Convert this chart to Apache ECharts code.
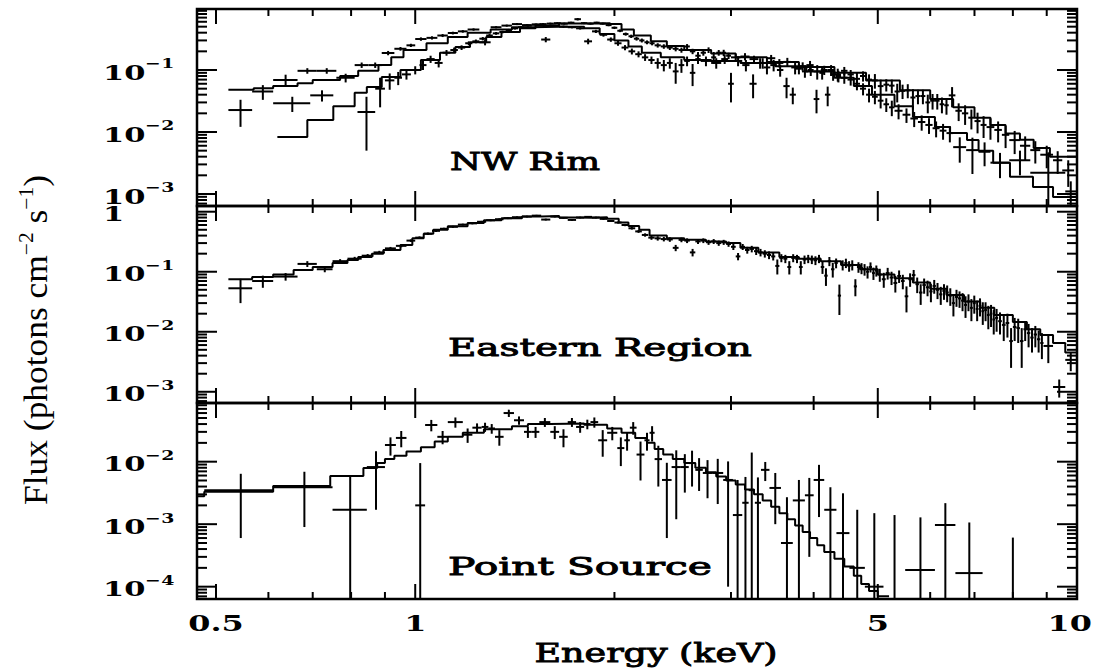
<!DOCTYPE html>
<html><head><meta charset="utf-8">
<script src="https://cdn.jsdelivr.net/npm/echarts@6/dist/echarts.min.js"></script>
<style>html,body{margin:0;padding:0;background:#fff}#c{width:1094px;height:669px}</style>
</head><body><div id="c"></div>
<script>
// ---------------- axis ticks / labels ----------------
const xMajorTicks = [0.5, 1, 5, 10];
const xMinorTicks = [0.6, 0.7, 0.8, 0.9, 2, 3, 4, 6, 7, 8, 9];
const xTickLabels = ['0.5', '1', '5', '10'];
const nwRimYTicks = [0.1, 0.01, 0.001];
const easternYTicks = [1, 0.1, 0.01, 0.001];
const pointYTicks = [0.01, 0.001, 0.0001];
const panelNames = ['NW Rim', 'Eastern Region', 'Point Source'];
const xTitle = 'Energy (keV)';

// ---------------- NW Rim: model A (soft) ----------------
const nwModelAEdges = [0.522,0.57,0.61,0.664,0.70,0.77,0.82,0.88,0.92,0.96,1.04,1.12,1.2,1.3,1.4,1.5,1.65,1.8,1.9,2.0,2.1,2.2,2.35,2.55,2.8,3.1,3.5,3.9,4.3,4.6,4.9,5.3,5.65,6.1,6.43,6.82,7.1,7.47,7.92,8.58,9.2,10];
const nwModelAFlux = [0.048,0.051,0.055,0.061,0.069,0.080,0.097,0.12,0.16,0.21,0.27,0.34,0.40,0.45,0.49,0.50,0.50,0.47,0.38,0.30,0.24,0.19,0.16,0.145,0.14,0.13,0.115,0.095,0.075,0.055,0.04,0.026,0.0175,0.012,0.0096,0.0074,0.005,0.0032,0.0019,0.0013,0.00089];
// ---------------- NW Rim: model B (hard) ----------------
const nwModelBEdges = [0.619,0.687,0.752,0.81,0.845,0.89,0.95,1.02,1.09,1.15,1.21,1.28,1.35,1.44,1.52,1.65,1.85,1.97,2.05,2.14,2.27,2.4,2.55,2.8,3.05,3.4,3.8,4.3,4.8,5.4,6.0,6.5,7.0,7.4,7.8,8.2,8.6,9.1,10];
const nwModelBFlux = [0.0083,0.0156,0.026,0.043,0.053,0.077,0.10,0.145,0.19,0.235,0.28,0.34,0.41,0.47,0.52,0.56,0.57,0.55,0.45,0.36,0.29,0.245,0.21,0.185,0.16,0.135,0.112,0.09,0.068,0.047,0.034,0.025,0.017,0.013,0.0095,0.0075,0.0055,0.004];

// ---------------- NW Rim: data A ----------------
const nwDataAEdges = [0.567,0.61,0.664,0.71,0.76,0.81,0.85,0.89,0.93,0.97,1.0,1.04,1.08,1.12,1.16,1.2,1.25,1.3,1.35,1.4,1.45,1.5,1.55,1.6,1.65,1.7,1.75,1.8,1.85,1.9,1.95,2.0,2.05,2.1,2.15,2.2,2.25,2.3,2.35,2.4,2.45,2.5,2.55,2.6,2.65,2.7,2.8,2.9,2.97,3.03,3.12,3.2,3.28,3.36,3.44,3.52,3.6,3.68,3.76,3.84,3.92,4.0,4.08,4.16,4.24,4.32,4.4,4.5,4.6,4.7,4.8,4.9,5.0,5.1,5.2,5.3,5.45,5.6,5.75,5.9,6.05,6.2,6.35,6.5,6.8,7.1,7.4,7.9,8.5,9.6,9.97];
const nwDataAFlux = [0.045,0.069,0.097,0.097,0.075,0.12,0.12,0.188,0.22,0.25,
 0.316,0.33,0.36,0.395,0.42,0.45,0.28,0.49,0.52,0.55,
 0.53,0.54,0.31,0.52,0.50,0.49,0.47,0.29,0.42,0.37,
 0.31,0.27,0.23,0.20,0.18,0.16,0.145,0.13,0.12,0.13,
 0.095,0.12,0.14,0.09,0.15,0.14,0.13,0.15,0.06,0.14,
 0.12,0.06,0.13,0.11,0.12,0.10,0.055,0.04,0.105,0.095,
 0.10,0.034,0.09,0.04,0.085,0.08,0.075,0.07,0.06,0.05,
 0.04,0.037,0.032,0.028,0.025,0.022,0.019,0.0165,0.0145,0.013,
 0.0115,0.0105,0.0096,0.0057,0.0051,0.0048,0.0032,0.0035,0.0022,0.0011];
const nwDataAErr = [0.012,0.015,0.01,0.01,0.012,0.012,0.012,0.015,0.015,0.015,
 0.02,0.02,0.02,0.02,0.02,0.02,0.03,0.02,0.02,0.02,
 0.02,0.02,0.03,0.02,0.02,0.02,0.02,0.03,0.025,0.025,
 0.025,0.024,0.022,0.022,0.02,0.02,0.02,0.025,0.025,0.025,
 0.035,0.03,0.025,0.035,0.025,0.025,0.025,0.025,0.03,0.025,
 0.025,0.025,0.025,0.025,0.025,0.022,0.02,0.012,0.02,0.02,
 0.02,0.014,0.02,0.014,0.018,0.017,0.015,0.014,0.013,0.011,
 0.01,0.009,0.008,0.007,0.007,0.006,0.005,0.0045,0.004,0.0037,
 0.0033,0.003,0.0028,0.0025,0.003,0.002,0.0014,0.0015,0.0025,0.0005];

// ---------------- NW Rim: data B ----------------
const nwDataBEdges = [0.522,0.567,0.61,0.694,0.752,0.818,0.87,0.9,0.93,0.955,0.985,1.015,1.04,1.07,1.1,1.13,1.16,1.19,1.22,1.25,1.28,1.31,1.34,1.37,1.4,1.43,1.46,1.5,1.54,1.58,1.62,1.66,1.7,1.74,1.78,1.82,1.86,1.9,1.94,1.98,2.02,2.06,2.1,2.14,2.18,2.22,2.26,2.3,2.35,2.4,2.45,2.5,2.55,2.6,2.65,2.7,2.75,2.8,2.85,2.9,2.95,3.0,3.1,3.2,3.3,3.4,3.5,3.6,3.7,3.8,3.9,4.0,4.1,4.2,4.3,4.4,4.5,4.6,4.7,4.8,4.9,5.0,5.1,5.2,5.3,5.4,5.5,5.6,5.7,5.8,5.9,6.0,6.1,6.2,6.3,6.4,6.55,6.7,6.85,7.0,7.15,7.3,7.5,7.7,7.9,8.2,8.5,8.8,9.2,9.5,9.9];
const nwDataBFlux = [0.0226,null,0.029,0.039,null,0.021,0.05,0.068,0.075,0.085,
 0.10,0.12,0.15,0.13,0.19,0.21,0.23,0.27,0.29,0.32,
 0.36,0.39,0.41,0.44,0.47,0.49,0.52,0.54,0.55,0.56,
 0.57,0.56,0.58,0.66,0.57,0.56,0.58,0.56,0.53,0.48,
 0.43,0.38,0.35,0.32,0.30,0.28,0.27,0.25,0.24,0.23,
 0.22,0.21,0.24,0.20,0.17,0.19,0.21,0.16,0.19,0.19,
 0.17,0.16,0.165,0.15,0.13,0.155,0.13,0.135,0.11,0.115,
 0.12,0.095,0.10,0.10,0.085,0.097,0.085,0.072,0.08,0.07,
 0.068,0.055,0.058,0.056,0.045,0.046,0.047,0.036,0.038,0.038,
 0.03,0.032,0.032,0.028,0.027,0.039,0.022,0.02,0.017,0.015,
 0.013,0.012,0.0108,0.009,0.0074,0.006,0.0051,0.0043,0.0035,0.0024];
const nwDataBErr = [0.0105,0,0.008,0.008,0,0.016,0.025,0.02,0.018,0.015,
 0.015,0.02,0.02,0.02,0.02,0.02,0.02,0.02,0.02,0.02,
 0.02,0.02,0.02,0.02,0.02,0.02,0.02,0.02,0.02,0.02,
 0.02,0.02,0.02,0.03,0.02,0.02,0.02,0.02,0.022,0.022,
 0.022,0.022,0.022,0.022,0.022,0.02,0.02,0.02,0.02,0.02,
 0.02,0.02,0.022,0.02,0.025,0.02,0.022,0.035,0.02,0.022,
 0.02,0.02,0.022,0.02,0.025,0.02,0.02,0.022,0.025,0.018,
 0.02,0.025,0.017,0.02,0.02,0.015,0.015,0.02,0.015,0.015,
 0.018,0.015,0.013,0.014,0.015,0.012,0.012,0.013,0.01,0.01,
 0.01,0.009,0.009,0.008,0.008,0.014,0.007,0.007,0.006,0.0055,
 0.005,0.0045,0.004,0.0035,0.003,0.0025,0.002,0.0017,0.0014,0.0011];

// ---------------- Eastern Region ----------------
const eastModelEdges = [0.522,0.567,0.61,0.655,0.70,0.75,0.79,0.82,0.86,0.895,0.95,0.99,1.03,1.065,1.12,1.2,1.27,1.35,1.45,1.55,1.65,1.75,1.85,1.95,2.03,2.1,2.18,2.26,2.4,2.55,2.75,2.95,3.1,3.3,3.55,3.8,4.1,4.4,4.7,5.0,5.3,5.65,6.0,6.35,6.75,7.14,7.5,8.0,8.4,8.8,9.2,9.6,10];
const eastModelFlux = [0.075,0.082,0.09,0.107,0.12,0.14,0.157,0.176,0.20,0.23,0.28,0.36,0.43,0.50,0.57,0.65,0.72,0.78,0.83,0.85,0.80,0.79,0.81,0.76,0.66,0.58,0.50,0.40,0.36,0.34,0.32,0.30,0.25,0.21,0.176,0.165,0.15,0.13,0.11,0.09,0.078,0.066,0.052,0.041,0.032,0.025,0.019,0.0145,0.011,0.0088,0.0065,0.0045];
const eastDataEdges = [0.522,0.567,0.61,0.664,0.71,0.75,0.79,0.83,0.865,0.9,0.935,0.97,1.0,1.03,1.06,1.09,1.12,1.16,1.2,1.24,1.28,1.32,1.36,1.4,1.45,1.5,1.55,1.6,1.65,1.7,1.75,1.8,1.85,1.9,1.95,2.0,2.05,2.1,2.15,2.2,2.25,2.3,2.35,2.4,2.45,2.5,2.55,2.6,2.65,2.7,2.75,2.8,2.85,2.9,2.95,3.0,3.05,3.1,3.15,3.2,3.25,3.3,3.35,3.4,3.45,3.5,3.55,3.6,3.65,3.7,3.75,3.8,3.85,3.9,3.95,4.0,4.05,4.1,4.15,4.2,4.25,4.3,4.35,4.4,4.45,4.5,4.55,4.6,4.65,4.7,4.75,4.8,4.85,4.9,4.95,5.0,5.07,5.14,5.21,5.28,5.35,5.42,5.49,5.56,5.63,5.7,5.77,5.84,5.91,5.98,6.05,6.12,6.19,6.26,6.33,6.4,6.47,6.54,6.61,6.68,6.75,6.82,6.89,6.96,7.03,7.1,7.17,7.24,7.31,7.38,7.45,7.52,7.6,7.7,7.8,7.9,8.0,8.1,8.2,8.3,8.4,8.5,8.6,8.7,8.8,8.9,9.2,9.6,9.97];
const eastDataFlux = [0.053,0.07,0.083,0.135,0.11,0.15,0.165,0.185,0.21,0.245,
 0.27,0.33,0.37,0.43,0.48,0.52,0.56,0.61,0.64,0.68,
 0.72,0.75,0.78,0.81,0.83,0.86,0.74,0.83,0.79,0.73,
 0.80,0.82,0.80,0.76,0.70,0.66,0.60,0.53,0.47,0.41,
 0.37,0.36,0.35,0.345,0.25,0.34,0.33,0.21,0.32,0.33,
 0.31,0.32,0.30,0.31,0.29,0.26,0.18,0.26,0.23,0.24,
 0.22,0.21,0.20,0.19,0.18,0.125,0.17,0.165,0.12,0.17,
 0.165,0.12,0.16,0.165,0.16,0.155,0.165,0.12,0.086,0.15,
 0.11,0.14,0.04,0.13,0.14,0.125,0.13,0.057,0.12,0.115,
 0.11,0.10,0.12,0.095,0.105,0.09,0.075,0.095,0.08,0.065,
 0.085,0.07,0.039,0.075,0.088,0.062,0.045,0.06,0.055,0.047,
 0.058,0.05,0.042,0.048,0.045,0.04,0.03,0.038,0.036,0.033,
 0.028,0.032,0.025,0.03,0.024,0.027,0.022,0.023,0.019,0.02,
 0.016,0.017,0.015,0.013,0.014,0.007,0.012,0.0115,0.007,0.011,
 0.0095,0.008,0.009,0.0075,0.0065,0.0058,0.0012,0.0034];
const eastDataErr = [0.023,0.016,0.012,0.015,0.012,0.012,0.012,0.012,0.013,0.014,
 0.015,0.016,0.018,0.02,0.02,0.02,0.022,0.022,0.024,0.024,
 0.025,0.025,0.026,0.026,0.027,0.027,0.026,0.027,0.026,0.026,
 0.026,0.027,0.026,0.026,0.025,0.026,0.026,0.026,0.026,0.026,
 0.03,0.03,0.03,0.03,0.03,0.03,0.03,0.03,0.03,0.03,
 0.03,0.03,0.03,0.03,0.03,0.03,0.025,0.03,0.03,0.03,
 0.03,0.03,0.028,0.028,0.026,0.035,0.026,0.026,0.03,0.026,
 0.026,0.03,0.026,0.026,0.026,0.026,0.026,0.028,0.028,0.026,
 0.03,0.026,0.021,0.025,0.025,0.025,0.025,0.018,0.024,0.024,
 0.024,0.023,0.023,0.022,0.022,0.022,0.021,0.021,0.02,0.02,
 0.02,0.019,0.018,0.019,0.019,0.018,0.017,0.017,0.016,0.016,
 0.015,0.015,0.014,0.014,0.014,0.013,0.012,0.012,0.011,0.011,
 0.011,0.01,0.01,0.01,0.009,0.009,0.009,0.008,0.008,0.008,
 0.007,0.007,0.006,0.006,0.006,0.0045,0.005,0.005,0.0045,0.004,
 0.004,0.0035,0.0035,0.003,0.003,0.0028,0.0004,0.0012];

// ---------------- Point Source ----------------
const pointModelEdges = [0.468,0.48,0.61,0.744,0.835,0.876,0.9,0.93,0.97,1.02,1.07,1.12,1.18,1.27,1.4,1.48,1.6,1.8,1.95,2.05,2.15,2.24,2.3,2.37,2.45,2.55,2.65,2.75,2.85,2.95,3.05,3.15,3.25,3.35,3.45,3.55,3.65,3.75,3.85,3.95,4.05,4.15,4.3,4.45,4.6,4.72,4.85,5.0,5.2];
const pointModelFlux = [0.0028,0.0033,0.0041,0.0059,0.0079,0.0095,0.011,0.0125,0.0145,0.017,0.021,0.025,0.029,0.033,0.037,0.04,0.041,0.039,0.034,0.029,0.024,0.02,0.016,0.013,0.011,0.0095,0.008,0.0068,0.0058,0.005,0.0043,0.0036,0.003,0.0024,0.0019,0.0015,0.0012,0.00095,0.00075,0.0006,0.00046,0.00036,0.00028,0.00021,0.00015,0.00011,0.000085,0.00007];
const pointDataEdges = [0.48,0.61,0.75,0.845,0.9,0.935,0.97,1.0,1.035,1.08,1.12,1.18,1.22,1.26,1.29,1.32,1.36,1.41,1.46,1.5,1.54,1.6,1.65,1.7,1.75,1.8,1.84,1.89,1.95,2.02,2.07,2.11,2.16,2.22,2.26,2.3,2.36,2.44,2.52,2.59,2.65,2.72,2.81,2.92,3.02,3.12,3.19,3.26,3.33,3.43,3.57,3.72,3.88,4.0,4.15,4.33,4.53,4.78,5.1,5.5,6.1,6.55,7.2,7.7,8.3];
const pointDataFlux = [0.0035,0.0039,0.0017,0.0082,0.0185,0.024,null,0.002,0.0386,0.025,
 0.043,0.027,0.035,0.036,0.034,0.025,0.06,0.046,0.03,0.03,
 0.043,0.03,0.025,0.043,0.036,0.04,0.043,0.022,0.029,0.0165,
 0.022,0.035,0.013,0.022,0.029,0.011,0.0051,0.0082,0.0082,0.0095,
 0.0074,0.0066,0.0066,0.0051,0.0014,0.0022,0.0035,0.0022,0.0074,0.0038,
 0.0005,0.0024,0.0029,0.0051,0.0017,0.00072,0.0002,0.0001,0.00003,0.000185,
 0.00097,0.000165,null,0.00001];
const pointDataErr = [0.0029,0.003,0.004,0.0065,0.006,0.007,0,0.0075,0.008,0.006,
 0.008,0.007,0.006,0.006,0.006,0.007,0.008,0.007,0.006,0.006,
 0.007,0.007,0.008,0.007,0.007,0.007,0.008,0.01,0.007,0.008,
 0.007,0.008,0.008,0.007,0.008,0.007,0.0045,0.007,0.005,0.0055,
 0.004,0.004,0.0045,0.005,0.0037,0.0035,0.0105,0.0034,0.0025,0.0028,
 0.0022,0.0027,0.0026,0.0038,0.0022,0.0024,0.0015,0.0014,0.00137,0.0011,
 0.0012,0.0009,0,0.0006];

// ---------------- layout ----------------
const CANVAS_W = 1094, CANVAS_H = 669;
const X_MIN = 0.468, X_MAX = 10;
const GRID_LEFT = 197, GRID_WIDTH = 880;
const PANELS = [
  {top: 9,   height: 197, yMin: 6.4e-4,  yMax: 0.964,  yTicks: nwRimYTicks,   lx: 450, ly: 161, lw: 150},
  {top: 206, height: 197, yMin: 6.5e-4,  yMax: 1.245,  yTicks: easternYTicks, lx: 448, ly: 348, lw: 304},
  {top: 403, height: 196, yMin: 6.35e-5, yMax: 0.0869, yTicks: pointYTicks,   lx: 448, ly: 566, lw: 264}
];
const INK = '#000';
const LW = 2;
const TICK_FONT = '"DejaVu Serif"';
const LABEL_SCALE = 1.45;
const XL_FONT = 'bold 22px "DejaVu Serif"';

const mctx = document.createElement('canvas').getContext('2d');
function textW(font, s) { mctx.font = font; return mctx.measureText(s).width; }

function stepPoints(edges, flux) {
  const n = Math.min(edges.length - 1, flux.length);
  const pts = [];
  for (let i = 0; i < n; i++) pts.push([edges[i], flux[i]]);
  pts.push([edges[n], flux[n - 1]]);
  return pts;
}
function binItems(edges, flux, err) {
  const n = Math.min(edges.length - 1, flux.length, err.length);
  const out = [];
  for (let i = 0; i < n; i++) if (flux[i] != null) out.push([edges[i], edges[i + 1], flux[i], err[i]]);
  return out;
}
function ln(x1, y1, x2, y2) {
  return {type: 'line', shape: {x1, y1, x2, y2}, style: {stroke: INK, lineWidth: LW}};
}
function errRenderer(p) {
  return function (params, api) {
    const lo = api.value(0), hi = api.value(1), f = api.value(2), e = api.value(3);
    const xc = (lo + hi) / 2;
    const yl = Math.max(f - e, p.yMin), yh = Math.min(f + e, p.yMax);
    const a = api.coord([xc, yl]), b = api.coord([xc, yh]);
    const ch = [ln(a[0], a[1], b[0], b[1])];
    if (f > p.yMin) {
      const c = api.coord([lo, f]), d = api.coord([hi, f]);
      ch.push(ln(c[0], c[1], d[0], d[1]));
    }
    return {type: 'group', children: ch};
  };
}
const RICH = {
  b: {fontFamily: TICK_FONT, fontWeight: 'bold', fontSize: 21, lineHeight: 25, verticalAlign: 'bottom', fill: INK},
  s: {fontFamily: TICK_FONT, fontWeight: 'bold', fontSize: 13, lineHeight: 13, verticalAlign: 'top', fill: INK}
};
function fmtY(v) {
  const e = Math.round(Math.log10(v));
  return e === 0 ? '{b|1}' : '{b|10}{s|\u2212' + (-e) + '}';
}
function tickRenderer(p) {
  return function (params, api) {
    const v0 = api.value(0), v1 = api.value(1), kind = api.value(2);
    const els = [];
    if (kind === 0 || kind === 1) {
      const len = kind === 0 ? 15 : 7;
      const b = api.coord([v0, p.yMin]), t = api.coord([v0, p.yMax]);
      els.push(ln(b[0], b[1], b[0], b[1] - len));
      els.push(ln(t[0], t[1], t[0], t[1] + len));
    } else if (kind === 2 || kind === 3) {
      const len = kind === 2 ? 20 : 10;
      const l = api.coord([X_MIN, v1]), r = api.coord([X_MAX, v1]);
      els.push(ln(l[0], l[1], l[0] + len, l[1]));
      els.push(ln(r[0], r[1], r[0] - len, r[1]));
    } else if (kind === 4) {
      const b = api.coord([v0, p.yMin]);
      const txt = xTickLabels[api.value(3)];
      const hw = textW(XL_FONT, txt) * LABEL_SCALE / 2;
      const cx = Math.min(b[0], CANVAS_W - hw - 2);
      els.push({type: 'text', x: cx, y: b[1] + 24, scaleX: LABEL_SCALE,
        style: {text: txt, align: 'center', verticalAlign: 'middle', font: XL_FONT, fill: INK}});
    } else if (kind === 5) {
      const l = api.coord([X_MIN, v1]);
      els.push({type: 'text', x: l[0] - 94, y: l[1], scaleX: LABEL_SCALE,
        style: {text: fmtY(v1), rich: RICH, align: 'left', verticalAlign: 'middle', fill: INK}});
    }
    return {type: 'group', children: els};
  };
}
function tickData(p, idx) {
  const d = [];
  xMajorTicks.forEach(v => d.push([v, p.yMin, 0, 0]));
  xMinorTicks.forEach(v => d.push([v, p.yMin, 1, 0]));
  p.yTicks.forEach(v => d.push([X_MIN, v, 2, 0]));
  const e0 = Math.floor(Math.log10(p.yMin)), e1 = Math.ceil(Math.log10(p.yMax));
  for (let e = e0; e <= e1; e++) for (let m = 2; m <= 9; m++) {
    const v = m * Math.pow(10, e);
    if (v > p.yMin && v < p.yMax) d.push([X_MIN, v, 3, 0]);
  }
  p.yTicks.forEach(v => d.push([X_MIN, v, 5, 0]));
  if (idx === 2) xMajorTicks.forEach((v, i) => d.push([v, p.yMin, 4, i]));
  return d;
}

const grids = [], xAxes = [], yAxes = [], series = [];
PANELS.forEach((p, i) => {
  grids.push({left: GRID_LEFT, width: GRID_WIDTH, top: p.top, height: p.height, show: true,
    borderColor: INK, borderWidth: 2.5, backgroundColor: 'transparent'});
  xAxes.push({type: 'log', logBase: 10, gridIndex: i, min: X_MIN, max: X_MAX,
    axisLine: {show: false}, axisTick: {show: false}, axisLabel: {show: false}, splitLine: {show: false}});
  yAxes.push({type: 'log', logBase: 10, gridIndex: i, min: p.yMin, max: p.yMax,
    axisLine: {show: false}, axisTick: {show: false}, axisLabel: {show: false}, splitLine: {show: false}});
});
function modelSeries(i, edges, flux) {
  return {type: 'line', step: 'end', xAxisIndex: i, yAxisIndex: i, data: stepPoints(edges, flux),
    symbol: 'none', silent: true, lineStyle: {color: INK, width: LW}, clip: true, z: 3};
}
function dataSeries(i, edges, flux, err) {
  return {type: 'custom', xAxisIndex: i, yAxisIndex: i, data: binItems(edges, flux, err),
    encode: {x: [0, 1], y: 2}, renderItem: errRenderer(PANELS[i]), clip: true, silent: true, z: 4};
}
series.push(modelSeries(0, nwModelAEdges, nwModelAFlux));
series.push(modelSeries(0, nwModelBEdges, nwModelBFlux));
series.push(dataSeries(0, nwDataAEdges, nwDataAFlux, nwDataAErr));
series.push(dataSeries(0, nwDataBEdges, nwDataBFlux, nwDataBErr));
series.push(modelSeries(1, eastModelEdges, eastModelFlux));
series.push(dataSeries(1, eastDataEdges, eastDataFlux, eastDataErr));
series.push(modelSeries(2, pointModelEdges, pointModelFlux));
series.push(dataSeries(2, pointDataEdges, pointDataFlux, pointDataErr));
PANELS.forEach((p, i) => {
  series.push({type: 'custom', xAxisIndex: i, yAxisIndex: i, data: tickData(p, i),
    encode: {x: 0, y: 1}, renderItem: tickRenderer(p), clip: false, silent: true, z: 5});
});

// titles / panel labels (normal weight with a thin outline for a medium stroke)
const PANEL_FONT = '25px "DejaVu Serif"';
const graphic = PANELS.map((p, i) => ({
  type: 'text', x: p.lx, y: p.ly, scaleX: p.lw / textW(PANEL_FONT, panelNames[i]), silent: true,
  style: {text: panelNames[i], font: PANEL_FONT, fill: INK, stroke: INK, lineWidth: 0.9,
    align: 'left', verticalAlign: 'middle'}
}));
const XT_FONT = '26px "DejaVu Serif"';
graphic.push({type: 'text', x: 656, y: 653, scaleX: 243 / textW(XT_FONT, xTitle), silent: true,
  style: {text: xTitle, font: XT_FONT, fill: INK, stroke: INK, lineWidth: 0.9,
    align: 'center', verticalAlign: 'middle'}});
const YM = '33px "Liberation Serif"', YS = '20px "Liberation Serif"';
const yLen = textW(YM, 'Flux (photons cm') + textW(YS, '\u22122') + textW(YM, ' s') + textW(YS, '\u22121') + textW(YM, ')');
graphic.push({type: 'text', x: 34, y: 340, rotation: Math.PI / 2, scaleX: 330 / yLen, silent: true,
  style: {text: '{m|Flux (photons cm}{s|\u22122}{m| s}{s|\u22121}{m|)}', align: 'center', verticalAlign: 'middle',
    rich: {m: {fontFamily: '"Liberation Serif"', fontSize: 33, lineHeight: 36, verticalAlign: 'bottom', fill: INK},
           s: {fontFamily: '"Liberation Serif"', fontSize: 20, lineHeight: 20, verticalAlign: 'top', fill: INK}}}});

const chart = echarts.init(document.getElementById('c'), null, {renderer: 'svg'});
chart.setOption({
  animation: false,
  backgroundColor: '#fff',
  grid: grids, xAxis: xAxes, yAxis: yAxes, series: series, graphic: graphic
});
</script>
</body></html>
